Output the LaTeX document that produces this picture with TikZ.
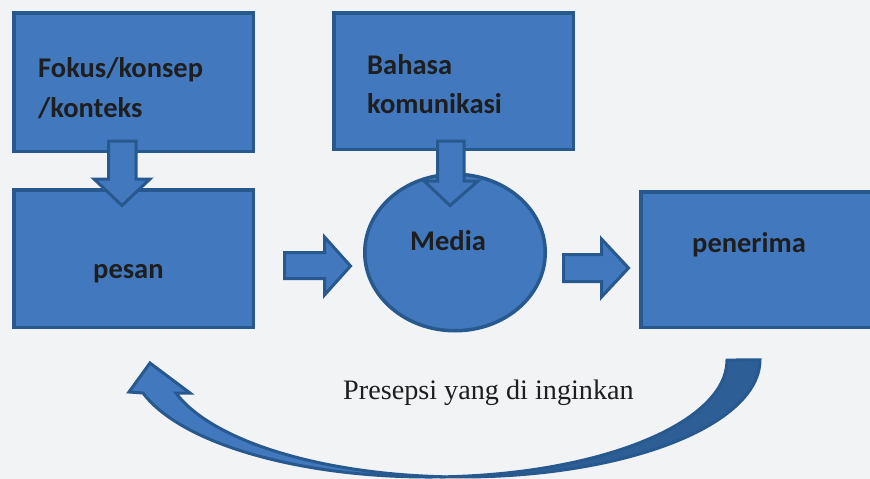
\documentclass[tikz,border=0pt]{standalone}
\usepackage{fontspec}
\setmainfont{Liberation Serif}
\newfontfamily\calfont{Carlito}
\usetikzlibrary{shapes.geometric}
\definecolor{bgc}{HTML}{F2F3F5}
\definecolor{fillc}{HTML}{4279BE}
\definecolor{edgec}{HTML}{27598F}
\definecolor{darkc}{HTML}{2E5E96}
\definecolor{txtc}{HTML}{1E1E1E}
\begin{document}
\begin{tikzpicture}[x=1pt,y=1pt,
  blk/.style={draw=edgec, line width=3.5pt, fill=fillc, line join=miter},
  boxn/.style={blk, rectangle, inner sep=0pt, outer sep=0pt},
  lbl/.style={font=\calfont\bfseries\fontsize{28.5}{30}\selectfont, text=txtc, inner sep=0pt, anchor=base west},
  captext/.style={font=\fontsize{28.2}{30}\selectfont, text=txtc, inner sep=0pt, anchor=base west},
  barrow/.style={blk, line width=3pt},
  carrow/.style={draw=edgec, line width=3pt, line join=miter}]
\useasboundingbox (0,0) rectangle (870,-479);
\clip (0,0) rectangle (870,-479);
\fill[bgc] (0,0) rectangle (870,-479);

% boxes
\node[boxn, minimum width=239.5pt, minimum height=138.5pt] (fokus) at (133.5,-82) {};
\node[boxn, minimum width=239.5pt, minimum height=137.5pt] (pesan) at (133.5,-258.5) {};
\node[boxn, minimum width=239.5pt, minimum height=136.5pt] (bahasa) at (453.5,-81) {};
\node[blk, ellipse, inner sep=0pt, outer sep=0pt, minimum width=180.5pt, minimum height=156.5pt] (media) at (455,-252.5) {};
\node[boxn, minimum width=257.5pt, minimum height=135.5pt] (penerima) at (769.5,-259.5) {};

% texts
\node[lbl] (t1) at (38,-77) {Fokus/konsep};
\node[lbl] (t2) at (38,-117) {/konteks};
\node[lbl] (t3) at (367,-74) {Bahasa};
\node[lbl] (t4) at (367,-113) {komunikasi};
\node[lbl] (t5) at (410,-250) {Media};
\node[lbl] (t6) at (93,-278) {pesan};
\node[lbl] (t7) at (692,-252) {penerima};
\node[captext] (t8) at (343,-399) {Presepsi yang di inginkan};

% block arrows
\draw[barrow] (108.5,-141) -- (136,-141) -- (136,-179) -- (150,-179) -- (122,-205.5) -- (94,-179) -- (108.5,-179) -- cycle;
\draw[barrow] (437.5,-141) -- (464,-141) -- (464,-181) -- (478,-181) -- (450,-205.5) -- (424,-181) -- (437.5,-181) -- cycle;
\draw[barrow] (284.5,-252.5) -- (324.5,-252.5) -- (324.5,-237) -- (350.5,-266) -- (324.5,-295) -- (324.5,-278.5) -- (284.5,-278.5) -- cycle;
\draw[barrow] (563.5,-254.5) -- (601.5,-254.5) -- (601.5,-239) -- (628.5,-268) -- (601.5,-297) -- (601.5,-281.5) -- (563.5,-281.5) -- cycle;

% curved arrow (back part)
\draw[carrow, fill=darkc] (445.5,-476.8)
  arc[start angle=266.83, end angle=360, x radius=298, y radius=117]
  -- (727,-360)
  arc[start angle=0, end angle=-86.83, x radius=298, y radius=117]
  -- cycle;
% curved arrow (front part with head)
\draw[carrow, fill=fillc] (143,-393)
  arc[start angle=196.38, end angle=273.17, x radius=298, y radius=117]
  arc[start angle=266.83, end angle=196.38, x radius=298, y radius=117]
  -- (190,-393) -- (150,-363) -- (129,-392) -- cycle;
\end{tikzpicture}
\end{document}
